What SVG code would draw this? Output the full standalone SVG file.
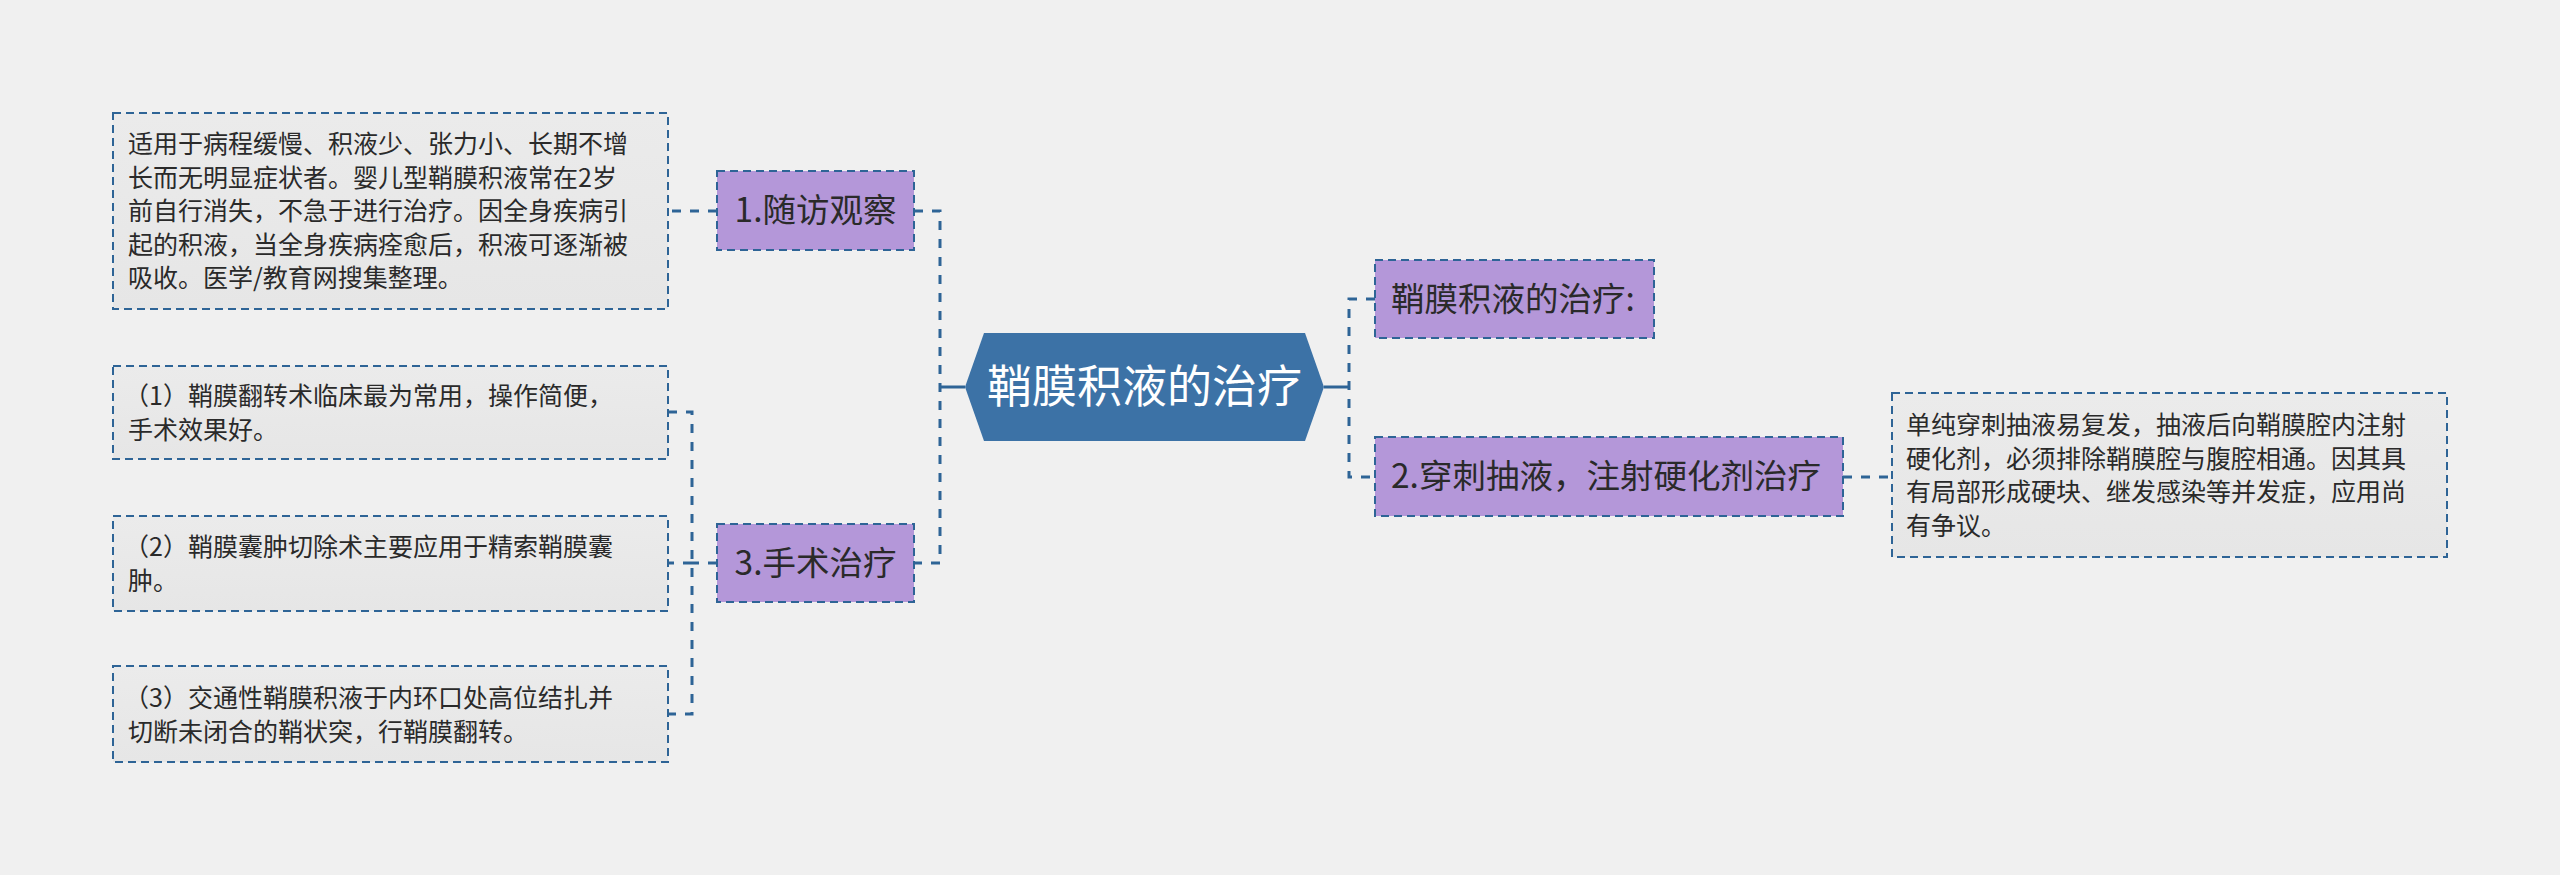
<svg xmlns="http://www.w3.org/2000/svg" width="2560" height="875" viewBox="0 0 2560 875">
<defs>
<linearGradient id="leafg" x1="0" y1="0" x2="0" y2="1">
<stop offset="0" stop-color="#ebebeb"/>
<stop offset="1" stop-color="#e6e6e6"/>
</linearGradient>
<style>
text{font-family:"Noto Sans CJK SC","Noto Sans",sans-serif;}
.leaf{fill:url(#leafg);stroke:#2e6496;stroke-width:2;stroke-dasharray:8 5;}
.pur{fill:#b497d9;stroke:#2e6496;stroke-width:2;stroke-dasharray:8 5;}
.lt{font-size:25px;fill:#2a2a2a;}
.pt{font-size:33.5px;fill:#2a2a2a;}
.ct{font-size:45px;fill:#ffffff;}
.con{fill:none;stroke:#2e6496;stroke-width:3;stroke-dasharray:9 9;}
.solid{fill:none;stroke:#2e6496;stroke-width:3;}
</style>
</defs>
<rect x="0" y="0" width="2560" height="875" fill="#f0f0f0"/>
<g id="connectors">
<path class="solid" d="M940 387 H965"/>
<path class="solid" d="M1324 387 H1349"/>
<path class="con" d="M914 211 H940 V563 H914"/>
<path class="con" d="M1375 299 H1349 V477 H1375"/>
<path class="con" d="M717 211 H668"/>
<path class="con" d="M1843 477 H1892"/>
<path class="con" d="M717 563 H692"/>
<path class="con" d="M668 412 H692 V714 H668"/>
<path class="con" d="M692 563 H668"/>
</g>
<g id="center">
<polygon points="965,387 984,333 1305,333 1324,387 1305,441 984,441" fill="#3c72a6"/>
<text class="ct" x="1144.5" y="403" text-anchor="middle">鞘膜积液的治疗</text>
</g>
<g id="n1">
<rect class="pur" x="717" y="171" width="197" height="79"/>
<text class="pt" x="815.5" y="222" text-anchor="middle">1.随访观察</text>
</g>
<g id="n1leaf">
<rect class="leaf" x="113" y="113" width="555" height="196"/>
<text class="lt" x="128" y="153">适用于病程缓慢、积液少、张力小、长期不增</text>
<text class="lt" x="128" y="187">长而无明显症状者。婴儿型鞘膜积液常在2岁</text>
<text class="lt" x="128" y="220">前自行消失，不急于进行治疗。因全身疾病引</text>
<text class="lt" x="128" y="254">起的积液，当全身疾病痊愈后，积液可逐渐被</text>
<text class="lt" x="128" y="287">吸收。医学/教育网搜集整理。</text>
</g>
<g id="n3">
<rect class="pur" x="717" y="524" width="197" height="78"/>
<text class="pt" x="815.5" y="575" text-anchor="middle">3.手术治疗</text>
</g>
<g id="n3leaf1">
<rect class="leaf" x="113" y="366" width="555" height="93"/>
<text class="lt" x="124" y="405">（1）鞘膜翻转术临床最为常用，操作简便，</text>
<text class="lt" x="128" y="439">手术效果好。</text>
</g>
<g id="n3leaf2">
<rect class="leaf" x="113" y="516" width="555" height="95"/>
<text class="lt" x="124" y="556">（2）鞘膜囊肿切除术主要应用于精索鞘膜囊</text>
<text class="lt" x="128" y="590">肿。</text>
</g>
<g id="n3leaf3">
<rect class="leaf" x="113" y="666" width="555" height="96"/>
<text class="lt" x="124" y="707">（3）交通性鞘膜积液于内环口处高位结扎并</text>
<text class="lt" x="128" y="741">切断未闭合的鞘状突，行鞘膜翻转。</text>
</g>
<g id="nt">
<rect class="pur" x="1375" y="260" width="279" height="78"/>
<text class="pt" x="1391" y="311">鞘膜积液的治疗:</text>
</g>
<g id="n2">
<rect class="pur" x="1375" y="437" width="468" height="79"/>
<text class="pt" x="1391" y="488">2.穿刺抽液，注射硬化剂治疗</text>
</g>
<g id="n2leaf">
<rect class="leaf" x="1892" y="393" width="555" height="164"/>
<text class="lt" x="1906" y="434">单纯穿刺抽液易复发，抽液后向鞘膜腔内注射</text>
<text class="lt" x="1906" y="468">硬化剂，必须排除鞘膜腔与腹腔相通。因其具</text>
<text class="lt" x="1906" y="501">有局部形成硬块、继发感染等并发症，应用尚</text>
<text class="lt" x="1906" y="535">有争议。</text>
</g>
</svg>
